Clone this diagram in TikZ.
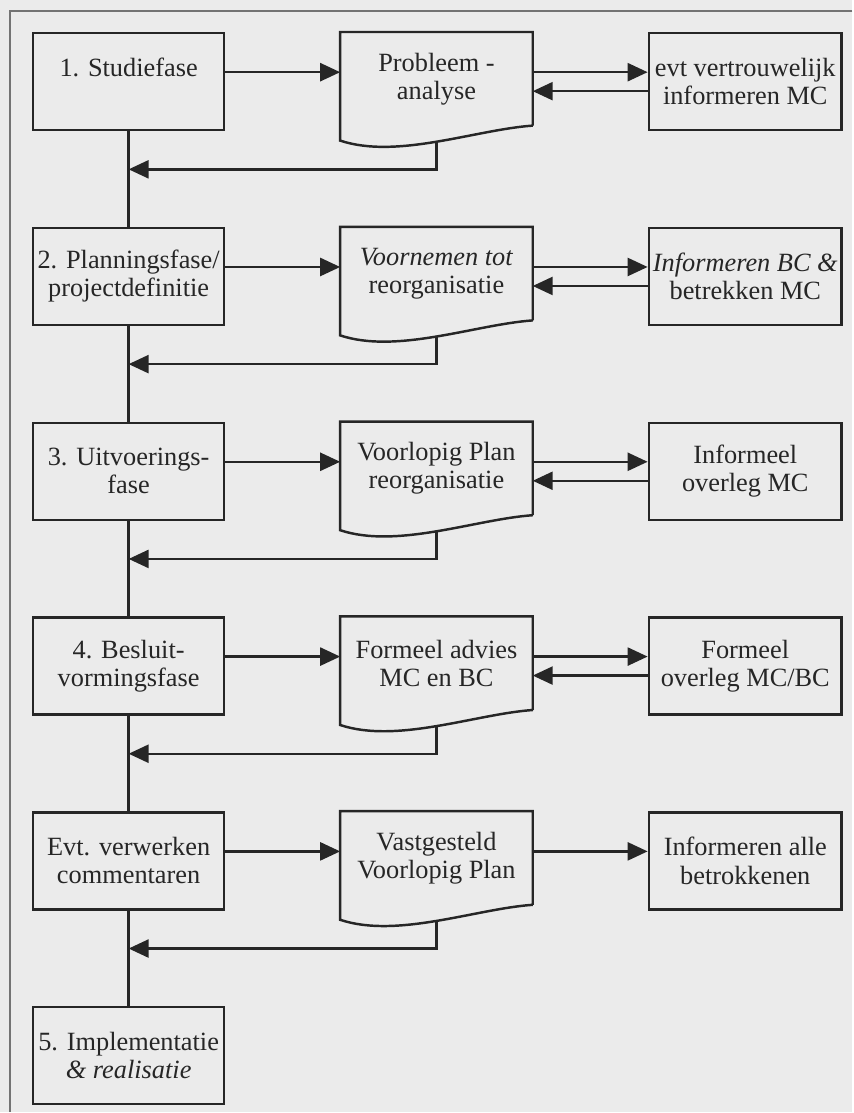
\documentclass[tikz,border=0pt]{standalone}
\usepackage{fontspec}
\setmainfont{Liberation Serif}
\usepackage{tikz}
\usetikzlibrary{positioning,arrows.meta}

\begin{document}
\begin{tikzpicture}[
    x=0.02cm, y=-0.02cm,
    every node/.style={font=\fontsize{15}{16}\selectfont, text=black!85},
    phase/.style={rectangle, draw=black!85, line width=1.4pt, minimum width=3.82cm, minimum height=1.94cm, align=center, inner sep=0pt},
    docbox/.style={rectangle, minimum width=3.84cm, minimum height=1.86cm, align=center, inner sep=0pt},
    info/.style={rectangle, draw=black!85, line width=1.4pt, minimum width=3.86cm, minimum height=1.94cm, align=center, inner sep=0pt},
    line/.style={draw=black!85, line width=1.4pt},
    arrow/.style={line, -{Triangle[length=0.4cm, width=0.36cm]}}
]

% scanned page and its frame
\fill[black!8] (0,0) rectangle (853,1113);
\draw[black!55, line width=0.8pt] (853,11) -- (10,11) -- (10,1113);

% left column: phases
\node[phase, anchor=north west] (s1) at (32,32) {1. Studiefase\\~};
\node[phase, below=1.91cm of s1] (s2) {2. Planningsfase/\\projectdefinitie};
\node[phase, below=1.91cm of s2] (s3) {3. Uitvoerings-\\fase};
\node[phase, below=1.91cm of s3] (s4) {4. Besluit-\\vormingsfase};
\node[phase, below=1.91cm of s4] (s5) {Evt. verwerken\\commentaren};
\node[phase, below=1.91cm of s5] (s6) {5. Implementatie\\\textit{\& realisatie}};

% middle column: documents
\node[docbox, anchor=north west] (p1) at ([xshift=2.3cm]s1.north east) {Probleem -\\analyse};
\node[docbox, anchor=north west] (p2) at ([xshift=2.3cm]s2.north east) {\textit{Voornemen tot}\\reorganisatie};
\node[docbox, anchor=north west] (p3) at ([xshift=2.3cm]s3.north east) {Voorlopig Plan\\reorganisatie};
\node[docbox, anchor=north west] (p4) at ([xshift=2.3cm]s4.north east) {Formeel advies\\MC en BC};
\node[docbox, anchor=north west] (p5) at ([xshift=2.3cm]s5.north east) {Vastgesteld\\Voorlopig Plan};

% right column: information
\node[info, anchor=north west] (r1) at ([xshift=2.3cm]p1.north east) {evt vertrouwelijk\\informeren MC};
\node[info, anchor=north west] (r2) at ([xshift=2.3cm]p2.north east) {\textit{Informeren BC \&}\\betrekken MC};
\node[info, anchor=north west] (r3) at ([xshift=2.3cm]p3.north east) {Informeel\\overleg MC};
\node[info, anchor=north west] (r4) at ([xshift=2.3cm]p4.north east) {Formeel\\overleg MC/BC};
\node[info, anchor=north west] (r5) at ([xshift=2.3cm]p5.north east) {Informeren alle\\betrokkenen};

% document outlines with wavy bottom
\foreach \n in {p1,p2,p3,p4,p5}{
  \draw[line] (\n.south east) -- (\n.north east) -- (\n.north west) -- ([yshift=-0.3cm]\n.south west)
    .. controls +(1.14cm,-0.38cm) and +(-1.14cm,-0.08cm) .. (\n.south east);
  \coordinate (\n b) at ([yshift=-0.32cm]\n.south);
}

% phase line
\draw[line] (s1) -- (s2);
\draw[line] (s2) -- (s3);
\draw[line] (s3) -- (s4);
\draw[line] (s4) -- (s5);
\draw[line] (s5) -- (s6);

% phase -> document -> information, and back
\foreach \i in {1,...,5}{
  \draw[arrow] ([yshift=0.19cm]s\i.east) -- ([yshift=0.19cm]s\i.east -| p\i.west);
  \draw[arrow] ([yshift=0.19cm]r\i.west -| p\i.east) -- ([yshift=0.19cm]r\i.west);
  \draw[arrow] (p\i b) |- ([yshift=-0.76cm]s\i.south);
}
\foreach \i in {1,...,4}{
  \draw[arrow] ([yshift=-0.19cm]r\i.west) -- ([yshift=-0.19cm]r\i.west -| p\i.east);
}

\end{tikzpicture}
\end{document}
